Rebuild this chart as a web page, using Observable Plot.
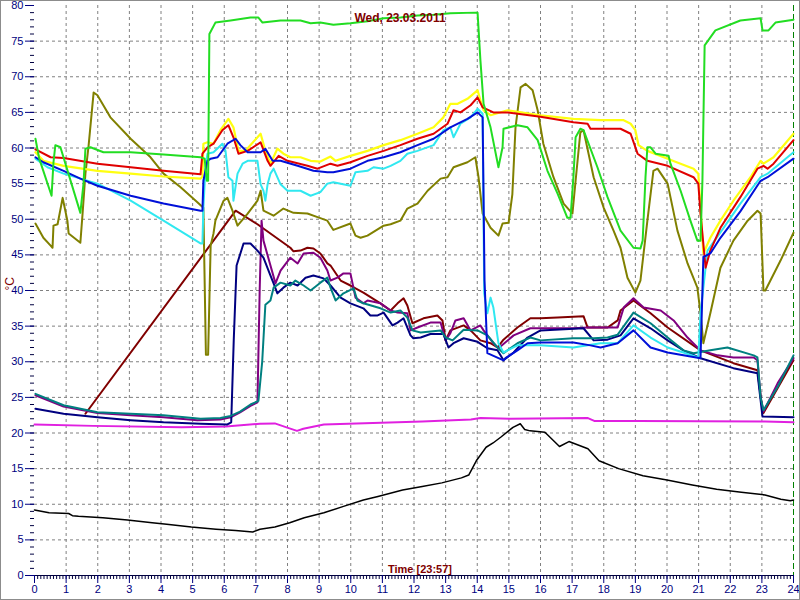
<!DOCTYPE html>
<html>
<head>
<meta charset="utf-8">
<script src="https://cdn.jsdelivr.net/npm/d3@7"></script>
<script src="https://cdn.jsdelivr.net/npm/@observablehq/plot@0.6"></script>
<style>
  html, body { margin: 0; padding: 0; background: #fff; }
  #chart svg { display: block; outline: 1px solid #8c8c8c; outline-offset: -1px; }
</style>
</head>
<body>
<div id="chart"></div>
<script>
// ---- labels ----
const titleText = "Wed, 23.03.2011";
const xAxisTitle = "Time [23:57]";
const yAxisTitle = "°C";
const hourTicks = d3.range(0, 25);
const degreeTicks = d3.range(0, 81, 5);

// ---- series: [hour, °C] ----
const green = [[0.03,61.3],[0.15,58.5],[0.54,53.3],[0.6,58],[0.66,60.4],[0.82,60.1],[1.45,50.9],[1.55,55],[1.61,59.9],[1.77,60.1],[2.18,59.4],[3.04,59.4],[4.08,59.1],[5.25,58.7],[5.38,58.5],[5.45,55.4],[5.49,55.4],[5.53,76],[5.72,77.6],[6.2,77.9],[6.83,78.3],[7.08,78.3],[7.21,77.6],[7.78,77.9],[8.41,77.9],[8.73,77.5],[9.04,77.6],[9.45,77.3],[9.99,77.5],[10.53,77.8],[11.04,78.2],[11.57,78.3],[12.11,78.6],[12.62,78.7],[13.15,78.9],[13.94,79],[14.01,79],[14.1,72.3],[14.2,66.2],[14.42,62.9],[14.67,57.3],[14.8,60.1],[14.83,62.7],[15.27,63.2],[15.59,62.9],[15.91,61.1],[16.22,56.8],[16.54,53.6],[16.85,50.2],[16.95,50.2],[17.04,55.9],[17.11,61.5],[17.26,62.7],[17.36,62.5],[17.8,57.3],[18.12,53.1],[18.53,48.4],[18.94,46],[19.16,45.9],[19.23,47],[19.32,55.9],[19.38,60.1],[19.48,60.1],[19.64,59.2],[20.05,58.9],[20.11,57.8],[20.43,54],[20.74,49.8],[20.96,47],[21.06,47],[21.12,55.4],[21.19,74.4],[21.53,76.5],[22.32,77.9],[22.96,78.2],[23.02,76.5],[23.21,76.5],[23.43,77.6],[24,78]];
const yellow = [[0.03,59.4],[0.28,58.2],[0.92,57.5],[1.99,56.8],[3.04,56.4],[4.08,56],[5.25,55.7],[5.31,56],[5.34,60.6],[5.47,60.8],[5.66,60.6],[5.88,62.5],[6.13,64.1],[6.29,62.9],[6.45,59.6],[6.67,59.6],[7.15,62],[7.3,59.6],[7.46,57.8],[7.68,59.9],[7.87,59.2],[8.09,58.7],[8.41,58.7],[8.73,58.2],[9.04,58.1],[9.36,58.8],[9.52,58.2],[9.99,58.9],[10.53,59.6],[11.04,60.4],[11.57,61.1],[12.11,62],[12.62,62.9],[12.93,64.3],[13.15,66.2],[13.38,66.2],[13.69,66.9],[14.01,68.1],[14.1,66.7],[14.2,65.3],[14.42,64.6],[14.96,65.3],[16,64.6],[17.04,64.1],[17.9,63.9],[18.63,63.9],[18.85,63.4],[19,62.5],[19.1,60.4],[19.38,59.6],[20.02,58.5],[20.84,57.1],[20.99,56.4],[21.15,45.2],[21.37,47.4],[21.69,49.8],[22.1,52.6],[22.64,55.9],[22.96,58.2],[23.05,57.8],[23.37,58.7],[24,62]];
const red = [[0.03,59.8],[0.51,58.7],[0.92,58.6],[1.99,57.8],[3.04,57.3],[4.08,56.8],[5.25,56.3],[5.31,59.2],[5.47,60.1],[5.66,60.6],[5.94,62.5],[6.13,63.2],[6.29,61.5],[6.45,59.2],[6.74,59.6],[7.15,60.8],[7.37,58.2],[7.46,57.5],[7.72,58.9],[8,58.2],[8.63,57.5],[8.95,57.1],[9.36,57.8],[9.58,57.5],[9.99,58],[10.53,58.9],[11.04,59.6],[11.57,60.4],[12.11,61.3],[12.62,62],[13.06,63.4],[13.25,65.3],[13.47,65],[13.79,66],[14.01,67.1],[14.17,65.7],[14.51,65],[14.96,65],[16,64.4],[17.04,63.6],[17.49,63.4],[17.58,62.7],[18.53,62.7],[18.85,62],[19.07,59.2],[19.38,58.2],[20.02,57.5],[20.84,55.9],[20.99,55],[21.06,50.8],[21.22,43.2],[21.37,45.6],[21.69,48.8],[22.32,53.1],[22.86,57.1],[23.05,57.5],[23.18,57.1],[23.37,57.8],[24,61.1]];
const blue = [[0.03,58.7],[0.28,58],[0.92,56.8],[1.45,55.7],[1.99,54.7],[3.04,53.3],[4.08,52.2],[5.25,51.2],[5.31,51.2],[5.34,55.4],[5.47,58.2],[5.57,58.5],[5.79,58.7],[6.1,60.6],[6.36,61.3],[6.51,60.4],[6.74,59.4],[7.15,59.4],[7.3,59.9],[7.53,58.2],[7.78,58.2],[8.32,57.5],[8.82,56.8],[9.26,56.6],[9.45,56.6],[9.99,57.1],[10.53,58.2],[11.04,58.7],[11.57,59.4],[12.11,60.4],[12.62,61.3],[13.15,62.9],[13.69,64.1],[14.01,65],[14.17,64.3],[14.23,41.4],[14.32,31.2],[14.83,30.2],[14.89,30.5],[15.27,31.6],[15.59,32.6],[16,32.7],[17.04,32.7],[17.58,32.3],[17.9,32],[18.44,32.6],[18.94,34.4],[19.48,32],[20.02,31.3],[21.06,30.5],[21.15,44.7],[21.37,45.2],[21.69,47.4],[22.32,51.1],[22.96,55.4],[23.18,55.9],[24,58.5]];
const cyan = [[0.03,58.5],[0.41,57.3],[0.92,56.4],[1.99,55],[3.04,52.6],[4.08,49.8],[5.25,46.6],[5.31,46.6],[5.34,51.6],[5.41,57.5],[5.47,59.2],[5.66,59.4],[5.94,60.6],[6.04,59.6],[6.13,55.9],[6.26,55.4],[6.29,52.6],[6.42,56.4],[6.58,57.8],[6.74,58.2],[7.05,58.2],[7.15,54.9],[7.24,54],[7.3,52.6],[7.37,54.9],[7.46,56.4],[7.56,57.1],[7.78,54.9],[8,54],[8.41,54],[8.73,53.3],[9.04,53.8],[9.26,55],[9.45,55.2],[9.99,54.7],[10.15,56.6],[10.53,56.8],[10.72,57.3],[11.04,57.1],[11.26,57.5],[11.57,58.2],[11.79,59.2],[12.11,59.6],[12.62,60.4],[12.93,62.5],[13.15,62.9],[13.25,61.5],[13.47,63.4],[13.79,64.3],[14.01,65.5],[14.17,64.8],[14.22,39.6],[14.32,36.8],[14.42,39],[14.51,37.6],[14.67,32.6],[14.83,31.3],[15.27,32.3],[16,32.3],[17.04,32],[17.9,32.6],[18.44,32.6],[18.94,35.1],[19.48,33.4],[20.02,32],[20.52,31.3],[20.99,30.6],[21.06,36.8],[21.28,45.6],[21.79,48.8],[22.32,52.2],[22.96,55.9],[23.18,56.4],[24,59.4]];
const olive = [[0.03,49.4],[0.28,47.4],[0.51,46.3],[0.57,46],[0.6,49.1],[0.73,49.3],[0.89,53],[1.04,49.8],[1.08,48],[1.45,46.7],[1.52,50.8],[1.61,56.4],[1.71,60.3],[1.87,67.8],[1.99,67.4],[2.4,64.3],[3.04,61.3],[3.67,58.7],[4.08,56.4],[4.62,54.5],[5.15,52.4],[5.34,51.6],[5.42,31],[5.49,31],[5.57,46.3],[5.66,48],[5.72,49.8],[5.98,52.6],[6.1,53],[6.26,51.2],[6.42,49.1],[6.74,50.8],[7.05,52.6],[7.15,54],[7.24,51.2],[7.56,50.5],[7.87,51.5],[8.19,50.9],[8.63,50.8],[8.95,50.3],[9.26,49.8],[9.45,48.5],[9.99,49.4],[10.15,47.7],[10.31,47.4],[10.53,47.7],[11.04,49.1],[11.26,49.3],[11.57,49.8],[11.79,51.5],[12.11,52.2],[12.43,54],[12.84,55.7],[13.06,55.9],[13.25,57.3],[13.69,58],[13.94,58.7],[14.04,55.9],[14.17,50.8],[14.42,48.8],[14.67,47.7],[14.8,49.4],[14.99,49.5],[15.11,53.5],[15.21,62.9],[15.37,68.5],[15.53,69],[15.75,68.1],[15.91,65.3],[16.09,60.6],[16.41,55.9],[16.73,52.2],[17.01,50.8],[17.11,55.4],[17.26,62.2],[17.36,62.5],[17.68,55.9],[18,51.6],[18.31,48.4],[18.53,46],[18.75,41.8],[19,39.7],[19.16,41.4],[19.38,49.8],[19.57,56.8],[19.7,57.1],[20.02,55],[20.33,48.4],[20.65,43.8],[20.96,40.4],[21.06,36.8],[21.15,32.6],[21.37,36.8],[21.69,43.2],[22.1,47],[22.55,49.8],[22.86,51.2],[22.96,50.8],[23.05,40],[23.11,40],[23.59,44.2],[24,48.1]];
const maroon = [[1.61,22.7],[6.36,51.2],[7.05,49.3],[8.09,46],[8.19,45.5],[8.41,45.6],[8.63,46],[8.82,45.9],[9.04,45.2],[9.26,43.8],[9.36,43.5],[9.68,41.4],[9.99,40.7],[10.4,39.7],[10.94,38.2],[11.26,37.2],[11.48,38.2],[11.67,38.9],[11.79,37.9],[11.95,35.4],[12.3,36.1],[12.74,36.5],[12.9,35.8],[13,33],[13.15,34.4],[13.57,35.1],[13.79,34.4],[14.1,33],[14.42,32.6],[14.64,32],[14.83,33.1],[15.27,34.8],[15.68,36.1],[16,36.1],[16.54,36.2],[17.36,36.4],[17.49,34.8],[18.12,34.8],[18.44,35.8],[18.53,37.2],[18.94,38.6],[19.48,36.8],[20.02,34.8],[21.06,31.6],[22.1,29.8],[22.86,28.8],[22.98,24.5],[23.05,22.8],[23.5,26.3],[24,30.2]];
const purple = [[0.03,25.3],[0.92,23.7],[1.99,22.8],[3.04,22.5],[4.08,22.2],[5.15,21.8],[5.88,21.9],[6.2,22.2],[6.5,22.9],[6.83,23.8],[7.05,24.3],[7.12,40],[7.18,49.8],[7.24,47],[7.62,41],[7.78,42.8],[8.09,44.6],[8.32,43.8],[8.51,45.2],[8.82,45.3],[9.04,44.6],[9.26,42.8],[9.36,41.4],[9.58,41.8],[9.77,42.4],[9.99,42.4],[10.15,39],[10.4,38.2],[10.53,38.6],[10.94,38.2],[11.26,37.2],[11.48,36.9],[11.79,36.8],[11.89,34.4],[12.11,34.8],[12.52,35.5],[12.84,35.5],[13,33],[13.15,34],[13.31,35.8],[13.57,36.1],[13.79,34.4],[14.1,35.1],[14.2,34.4],[14.51,32.6],[14.67,31.9],[15.15,33.7],[15.68,34.7],[16,34.7],[17.04,34.7],[17.49,34.8],[17.9,34.8],[18.44,34.8],[18.63,37.6],[18.94,38.9],[19.26,37.6],[19.8,37.2],[20.21,35.8],[20.65,33.4],[21.06,31.6],[21.6,30.9],[22.1,30.6],[22.74,30.6],[22.86,30.2],[22.96,25],[23.05,23],[23.5,27],[24,30.5]];
const navy = [[0.03,23.4],[0.92,22.7],[1.99,22.2],[3.04,21.8],[4.08,21.5],[5.25,21.3],[6.1,21.2],[6.22,21.5],[6.3,33],[6.39,43.5],[6.61,46.6],[6.83,46.6],[7.05,45.6],[7.24,44.6],[7.4,42.8],[7.56,41],[7.68,39.6],[7.87,40.4],[8.09,41.1],[8.32,40.7],[8.57,41.8],[8.82,42.1],[9.14,41.7],[9.36,40.7],[9.68,39],[9.99,38.2],[10.4,37.5],[10.62,36.5],[10.85,36.5],[11.04,36.9],[11.32,35.1],[11.48,35.5],[11.67,36.1],[11.89,33.7],[11.98,33.3],[12.21,33.4],[12.52,33.9],[12.93,33.9],[13.09,32],[13.25,32.6],[13.57,33.3],[14.01,32.8],[14.32,31.9],[14.64,31.6],[14.83,30.2],[15.15,31.3],[15.59,33.4],[16,34.4],[17.36,34.7],[17.68,33],[18.12,33.1],[18.53,33.7],[18.94,36.1],[19.48,34.7],[20.02,33],[20.52,31.6],[21.06,30.5],[22.1,29.1],[22.86,28.4],[23.02,22.3],[24,22.2]];
const teal = [[0.03,25.5],[0.92,23.9],[1.99,22.9],[3.04,22.7],[4.08,22.5],[5.25,22],[5.88,22.1],[6.2,22.4],[6.5,23],[6.83,24],[7.08,24.5],[7.2,30],[7.3,38],[7.46,38.6],[7.56,40.4],[7.78,41.1],[8.09,40.7],[8.25,41.4],[8.51,40.7],[8.73,40],[9.04,41.1],[9.26,41.8],[9.36,40.4],[9.52,38.6],[9.77,39.6],[10.09,40.3],[10.21,38.6],[10.4,38.2],[10.94,37.5],[11.26,36.9],[11.57,37.2],[11.79,36.2],[11.95,34.4],[12.21,34.1],[12.84,34.4],[13,33.4],[13.22,33],[13.57,34.5],[14.01,34.4],[14.32,33.7],[14.64,32],[14.83,31.2],[15.27,32.6],[15.68,33.4],[16,33],[17.04,33.3],[17.68,33.3],[18.12,33.4],[18.44,33.8],[18.94,36.9],[19.48,35.4],[20.02,33.4],[20.52,31.6],[20.84,31.2],[21.37,31.6],[21.91,32],[22.74,30.9],[22.86,30.6],[22.96,25],[23.05,23.2],[23.5,26.5],[24,30.9]];
const magenta = [[0,21.2],[1.85,21],[4.65,20.8],[6.05,20.9],[7.13,21.3],[7.6,21.35],[7.9,20.9],[8.3,20.3],[8.5,20.6],[9.15,21.2],[10.7,21.4],[12.26,21.6],[13.8,21.9],[14.1,22.1],[15.05,22],[17.5,22.1],[17.7,21.7],[19.1,21.7],[23.1,21.6],[24,21.5]];
const black = [[0,9.2],[0.46,8.8],[1.08,8.7],[1.2,8.4],[1.39,8.3],[2.16,8.1],[2.94,7.8],[3.72,7.4],[4.18,7.2],[4.96,6.8],[5.74,6.5],[6.36,6.3],[6.9,6.1],[7.13,6.5],[7.6,6.8],[8.07,7.4],[8.53,8.1],[9.15,8.8],[9.77,9.7],[10.4,10.6],[10.86,11.1],[11.64,12],[12.26,12.5],[12.88,13],[13.5,13.7],[13.73,14.1],[13.97,16.1],[14.28,18],[14.5,18.6],[14.74,19.4],[15.13,20.8],[15.36,21.3],[15.5,20.5],[15.67,20.3],[16.14,20.1],[16.6,18.1],[16.9,18.8],[17.5,17.8],[17.85,16.1],[18.47,15],[19.24,14],[20,13.4],[20.8,12.7],[21.57,12.1],[22.35,11.7],[23.1,11.3],[23.6,10.7],[23.9,10.5],[24,10.6]];

// ---- styling (kept apart from the data) ----
const seriesList = [
  {name: "black", pts: black, color: "#000000", width: 1.5},
  {name: "magenta", pts: magenta, color: "#e020e0", width: 2},
  {name: "maroon", pts: maroon, color: "#800000", width: 2},
  {name: "purple", pts: purple, color: "#800080", width: 2},
  {name: "navy", pts: navy, color: "#000080", width: 2},
  {name: "teal", pts: teal, color: "#008080", width: 2},
  {name: "olive", pts: olive, color: "#808000", width: 2},
  {name: "cyan", pts: cyan, color: "#30e8f0", width: 2},
  {name: "yellow", pts: yellow, color: "#ffff10", width: 2.2},
  {name: "red", pts: red, color: "#e00000", width: 2},
  {name: "blue", pts: blue, color: "#0010d8", width: 2},
  {name: "green", pts: green, color: "#22dd22", width: 2}
];

const minorX = d3.range(0, 241).map(i => i / 10);
const minorY = d3.range(0, 81);

const lineMarks = seriesList.map(s =>
  Plot.line(s.pts, {x: d => d[0], y: d => d[1], stroke: s.color, strokeWidth: s.width, strokeLinejoin: "round", strokeLinecap: "round"})
);

const chart = Plot.plot({
  width: 800,
  height: 600,
  marginLeft: 34,
  marginRight: 7,
  marginTop: 5,
  marginBottom: 25,
  x: {domain: [0, 24]},
  y: {domain: [0, 80]},
  style: {fontFamily: "'Liberation Sans', Arial, sans-serif", fontSize: "11px", background: "white"},
  marks: [
    Plot.ruleX(hourTicks.slice(1, 24), {stroke: "#808080", strokeDasharray: "3,3", strokeWidth: 1}),
    Plot.ruleY(degreeTicks.slice(1, 16), {stroke: "#808080", strokeDasharray: "3,3", strokeWidth: 1}),
    Plot.ruleX([24], {stroke: "#008000", strokeDasharray: "6,3", strokeWidth: 1}),
    ...lineMarks,
    Plot.ruleY([0], {stroke: "#000040", strokeWidth: 1}),
    Plot.axisX(minorX, {tickSize: 4, tickFormat: () => "", label: null, stroke: "#000040"}),
    Plot.axisX(hourTicks, {tickSize: 8, tickPadding: 2, tickFormat: d => String(d), label: null, color: "#000080"}),
    Plot.axisY(minorY, {tickSize: 4, tickFormat: () => "", label: null, stroke: "#000040"}),
    Plot.axisY(degreeTicks, {tickSize: 9, tickPadding: 2, tickFormat: d => String(d), label: null, color: "#000080"}),
    Plot.text([titleText], {frameAnchor: "top", lineAnchor: "top", dy: 8, dx: -14, fill: "#800000", fontWeight: "bold", fontSize: 12}),
    Plot.text([xAxisTitle], {frameAnchor: "bottom", lineAnchor: "bottom", dy: -3, dx: 6, fill: "#800000", fontWeight: "bold", fontSize: 11}),
    Plot.text([yAxisTitle], {frameAnchor: "left", dx: -24, rotate: -90, fill: "#800000", fontSize: 12})
  ]
});

document.getElementById("chart").appendChild(chart);
</script>
</body>
</html>
